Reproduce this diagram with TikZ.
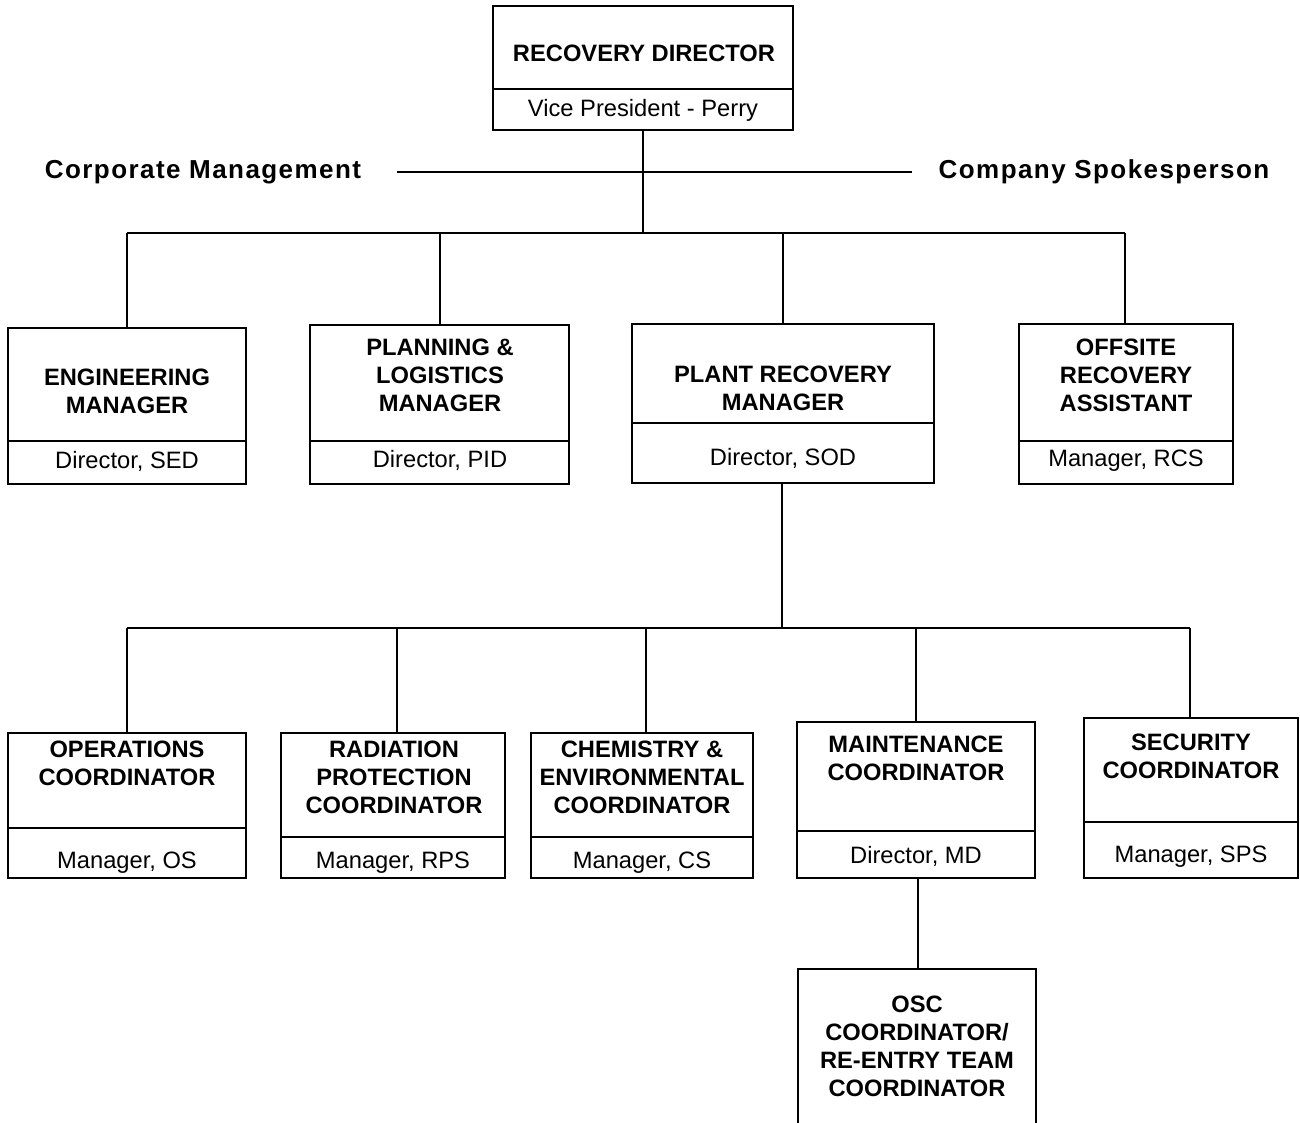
\documentclass[tikz,border=0pt]{standalone}
\usepackage{fontspec}
\setmainfont{Liberation Sans}
\newfontfamily\labelfont[LetterSpace=5.5]{Liberation Sans}
\begin{document}
\begin{tikzpicture}[x=1pt,y=-1pt,
  line width=1.4pt,
  part/.style={draw, rectangle, anchor=north west, inner sep=0pt, outer sep=0pt},
  title/.style={align=center, inner sep=0pt, font=\bfseries\fontsize{23.7}{28}\selectfont},
  sub/.style={anchor=base, inner sep=0pt, font=\fontsize{23.7}{28}\selectfont},
  side/.style={inner sep=0pt, font=\labelfont\bfseries\fontsize{26}{30}\selectfont}]
\useasboundingbox (0,0) rectangle (1300,1123);

% #1 name, #2 x1, #3 y1, #4 x2, #5 divider y, #6 y2
\newcommand{\orgbox}[6]{%
  \node[part, minimum width=#4-#2, minimum height=#5-#3] (#1) at (#2,#3) {};
  \node[part, minimum width=#4-#2, minimum height=#6-#5] (#1-s) at (#2,#5) {};
}

% top level
\orgbox{rd}{493}{6}{793}{89}{130}
\node[title] (rd-t) at (644,53) {RECOVERY DIRECTOR};
\node[sub] (rd-n) at (643,117) {Vice President - Perry};

\node[side] (corp) at (203,172) {Corporate Management};
\node[side] (spok) at (1104,172) {Company Spokesperson};
\coordinate (cl) at (397,172);
\coordinate (cr) at (912,172);
\draw (cl) -- (cr);

% managers
\orgbox{eng}{8}{328}{246}{441}{484}
\node[title] (eng-t) at (127,391.5) {ENGINEERING\\MANAGER};
\node[sub] (eng-n) at (127,468) {Director, SED};

\orgbox{pln}{310}{325}{569}{441}{484}
\node[title] (pln-t) at (440,375.5) {PLANNING \&\\LOGISTICS\\MANAGER};
\node[sub] (pln-n) at (440,467) {Director, PID};

\orgbox{prm}{632}{324}{934}{423}{483}
\node[title] (prm-t) at (783,388.5) {PLANT RECOVERY\\MANAGER};
\node[sub] (prm-n) at (783,465) {Director, SOD};

\orgbox{off}{1019}{324}{1233}{441}{484}
\node[title] (off-t) at (1126,375) {OFFSITE\\RECOVERY\\ASSISTANT};
\node[sub] (off-n) at (1126,466) {Manager, RCS};

% coordinators
\orgbox{ops}{8}{733}{246}{828}{878}
\node[title] (ops-t) at (127,763) {OPERATIONS\\COORDINATOR};
\node[sub] (ops-n) at (127,868) {Manager, OS};

\orgbox{rad}{281}{733}{505}{837}{878}
\node[title] (rad-t) at (394,777) {RADIATION\\PROTECTION\\COORDINATOR};
\node[sub] (rad-n) at (393,868) {Manager, RPS};

\orgbox{che}{531}{733}{753}{837}{878}
\node[title] (che-t) at (642,777) {CHEMISTRY \&\\ENVIRONMENTAL\\COORDINATOR};
\node[sub] (che-n) at (642,868) {Manager, CS};

\orgbox{mnt}{797}{722}{1035}{831}{878}
\node[title] (mnt-t) at (916,758) {MAINTENANCE\\COORDINATOR};
\node[sub] (mnt-n) at (916,863) {Director, MD};

\orgbox{sec}{1084}{718}{1298}{822}{878}
\node[title] (sec-t) at (1191,756) {SECURITY\\COORDINATOR};
\node[sub] (sec-n) at (1191,862) {Manager, SPS};

% OSC box runs off the lower edge
\node[part, draw=none, minimum width=238, minimum height=154] (osc) at (798,969) {};
\draw (osc.south west) -- (osc.north west) -- (osc.north east) -- (osc.south east);
\node[title] (osc-t) at (917,1046) {OSC\\COORDINATOR/\\RE-ENTRY TEAM\\COORDINATOR};

% connectors, level 1
\coordinate (j1) at (643,233);
\draw (rd-s.south) -- (j1);
\coordinate (b1l) at (127,233);
\coordinate (b1r) at (1125,233);
\draw (b1l) -- (b1r);
\draw (b1l) -- (eng.north);
\coordinate (pj) at (440,233);
\draw (pj) -- (pj |- pln.north);
\draw (prm.north |- j1) -- (prm.north);
\draw (b1r) -- (b1r |- off.north);

% connectors, level 2
\coordinate (j2) at (782,628);
\draw (prm-s.south -| j2) -- (j2);
\coordinate (b2l) at (127,628);
\coordinate (b2r) at (1190,628);
\draw (b2l) -- (b2r);
\draw (b2l) -- (ops.north);
\coordinate (rj) at (397,628);
\draw (rj) -- (rj |- rad.north);
\coordinate (cj) at (646,628);
\draw (cj) -- (cj |- che.north);
\draw (mnt.north |- j2) -- (mnt.north);
\draw (b2r) -- (b2r |- sec.north);

% maintenance to OSC
\coordinate (mj) at (918,878);
\draw (mj) -- (mj |- osc.north);
\end{tikzpicture}
\end{document}
